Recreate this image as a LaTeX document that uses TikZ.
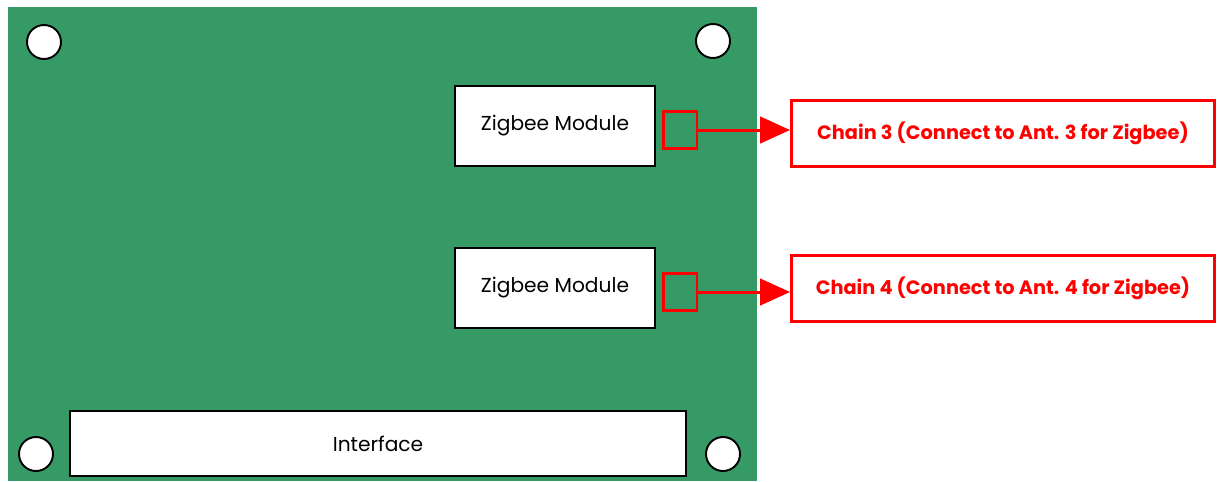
\documentclass[tikz,border=0pt]{standalone}
\usepackage{fontspec}
\setmainfont{Poppins}
\usepackage{xcolor}
\usetikzlibrary{arrows.meta, positioning}
\definecolor{pcbgreen}{RGB}{53,154,102}

\begin{document}
\begin{tikzpicture}[
  x=0.02cm, y=-0.02cm,
  font=\fontsize{11.5}{14}\selectfont,
  module/.style={draw, fill=white, line width=1.1pt, minimum width=4cm,
                 minimum height=1.6cm, inner sep=0pt},
  hole/.style={circle, draw, fill=white, line width=1.1pt,
               minimum size=0.68cm, inner sep=0pt},
  rfport/.style={draw=red, line width=1.7pt, minimum width=0.68cm,
                 minimum height=0.74cm, inner sep=0pt},
  chain/.style={draw=red, line width=1.7pt, minimum width=8.46cm,
                minimum height=1.32cm, text=red,
                font=\fontsize{11}{13}\selectfont\bfseries},
  rfarr/.style={-{Triangle[length=17pt,width=15pt]}, red, line width=1.7pt},
]
\useasboundingbox (0,0) rectangle (1217,481);

%% ---------- Board ------------------------------------------------
\fill[pcbgreen] (8,7) rectangle (757,481);

%% ---------- Mounting holes --------------------------------------
\node[hole] (holeTL) at (44,42)  {};
\node[hole] (holeTR) at (713,41) {};
\node[hole] (holeBL) at (36,454) {};
\node[hole] (holeBR) at (723,454) {};

%% ---------- Modules ---------------------------------------------
\node[module] (zb3) at (555,126) {Zigbee Module};
\node[module] (zb4) at (555,288) {Zigbee Module};
\node[module, minimum width=12.32cm, minimum height=1.3cm] (iface)
      at (378,443.5) {Interface};

%% ---------- RF ports --------------------------------------------
\node[rfport] (port3) at (680,130) {};
\node[rfport] (port4) at (680,292) {};

%% ---------- Antenna chains --------------------------------------
\node[chain] (chain3) at (1003,133.5) {Chain 3 (Connect to Ant. 3 for Zigbee)};
\node[chain] (chain4) at (1003,288.5) {Chain 4 (Connect to Ant. 4 for Zigbee)};

%% ---- Arrows ---------------------------------------------------
\draw[rfarr] (port3) -- (port3 -| chain3.west);
\draw[rfarr] (port4) -- (port4 -| chain4.west);
\end{tikzpicture}
\end{document}
